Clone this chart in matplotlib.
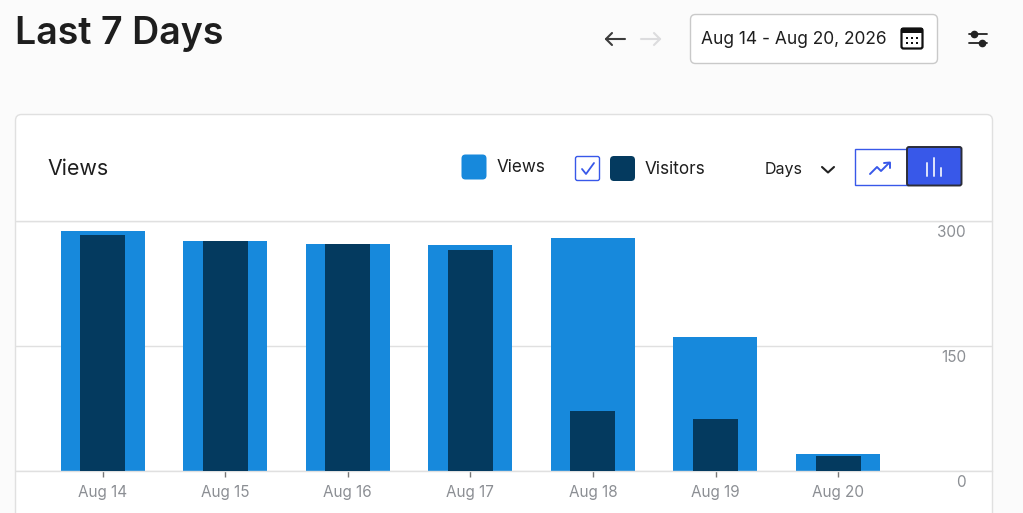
import matplotlib
matplotlib.use("Agg")
import matplotlib.pyplot as plt
from matplotlib.patches import FancyBboxPatch, Rectangle

plt.rcParams['font.family'] = ['Inter', 'DejaVu Sans']

days = ["Aug 14", "Aug 15", "Aug 16", "Aug 17", "Aug 18", "Aug 19", "Aug 20"]
views = [288, 276, 272, 271, 280, 161, 20]
visitors = [283, 276, 272, 265, 72, 62, 18]
y_ticks = [0, 150, 300]

W, H = 1023, 513
PAGE = "#fbfbfb"; BLUE = "#1789dc"; NAVY = "#043a5f"; ROYAL = "#3858e9"
INK = "#1e1e1e"; GREY = "#8c8f94"; LINE = "#e0e0e0"

fig = plt.figure(figsize=(W / 100, H / 100), dpi=100, facecolor=PAGE)
bg = fig.add_axes([0, 0, 1, 1], zorder=0)
bg.set_xlim(0, W); bg.set_ylim(H, 0); bg.axis("off")

def box(x0, y0, x1, y1, r=0, fc="white", ec="none", lw=1, ax=bg, z=1):
    ax.add_patch(FancyBboxPatch((x0 + r, y0 + r), x1 - x0 - 2 * r, y1 - y0 - 2 * r,
                                boxstyle=f"round,pad={r},rounding_size={r}" if r else "square,pad=0",
                                fc=fc, ec=ec, lw=lw, zorder=z))

def line(xs, ys, color=INK, lw=1.5, z=3):
    bg.plot(xs, ys, color=color, lw=lw, zorder=z, solid_capstyle="round", solid_joinstyle="round")

# card
box(15.5, 114.5, 992.5, 560, r=6, fc="white", ec=LINE, lw=1)
line([16, 992], [220.5, 220.5], LINE, 1.0, 2)

# header
bg.text(15, 34, "Last 7 Days", fontsize=27, fontweight="semibold", color=INK, va="center", ha="left")
line([606, 625], [39, 39], "#3c3c3c", 1.5)
line([612, 606, 612], [33, 39, 45], "#3c3c3c", 1.5)
line([641, 660], [39, 39], "#dcdcde", 1.5)
line([654, 660, 654], [33, 39, 45], "#dcdcde", 1.5)
box(690.5, 14.5, 937.5, 63.5, r=5, fc="white", ec="#c9c9c9", lw=1)
bg.text(701, 40, "Aug 14 - Aug 20, 2026", fontsize=12.5, color=INK, va="center", ha="left")
box(901.5, 28.5, 922.5, 48.5, r=2, fc="white", ec="#111111", lw=1.6)
bg.add_patch(Rectangle((901, 28), 22, 5, fc="#111111", zorder=3))
for cy in (38, 43):
    for cx in (907, 912, 917):
        bg.add_patch(Rectangle((cx - 1, cy - 1), 2.2, 2.2, fc="#111111", zorder=3))
line([969, 987], [34, 34], "#222222", 1.3)
line([969, 987], [43, 43], "#222222", 1.3)
bg.plot([974, 982], [34, 43], ls="none", marker="o", ms=4.5, color="#222222", zorder=4)

# card header
bg.text(47, 169, "Views", fontsize=15.4, color=INK, va="center", ha="left")
box(461.5, 154.5, 486.5, 179.5, r=4, fc=BLUE)
bg.text(497, 167.5, "Views", fontsize=12.3, color=INK, va="center", ha="left")
box(575.5, 156.5, 599.5, 180.5, r=2, fc="white", ec=ROYAL, lw=1)
line([582, 586, 594], [169, 174, 163], ROYAL, 1.3)
box(610, 156, 635, 181, r=4, fc=NAVY)
bg.text(645, 169.5, "Visitors", fontsize=12.4, color=INK, va="center", ha="left")
bg.text(765, 169.5, "Days", fontsize=11.5, color=INK, va="center", ha="left")
line([822, 828, 834], [167, 172.5, 167], "#222222", 1.5)
bg.add_patch(Rectangle((854.5, 148.5), 53, 36, fc="white", ec=ROYAL, lw=1, zorder=3))
line([870, 877, 881, 889], [174, 167, 171, 163], ROYAL, 1.4, 4)
line([884, 890, 890], [163, 162.5, 168], ROYAL, 1.4, 4)
box(907, 147, 961.5, 185.5, r=2, fc=ROYAL, ec="#2b2d3a", lw=1.4, z=5)
line([927, 927], [163, 176], "#dfe4fb", 1.4, 6)
line([934, 934], [158, 176], "#dfe4fb", 1.4, 6)
line([941, 941], [168, 176], "#dfe4fb", 1.4, 6)

# chart: y 0 at 471 px, 300 at 221 px; x from card left to right
ax = fig.add_axes([16 / W, 1 - 471 / H, 976 / W, 250 / H], zorder=2)
ax.patch.set_alpha(0)
ax.set_ylim(0, 300)
x = range(len(days))
first, step = 102.5, 122.6
ax.set_xlim((16 - first) / step, (992 - first) / step)
ax.bar(x, views, width=84 / step, color=BLUE, zorder=2)
ax.bar(x, visitors, width=45 / step, color=NAVY, zorder=3)
for s in ax.spines.values():
    s.set_visible(False)
ax.spines["bottom"].set_visible(True)
ax.spines["bottom"].set_color(LINE)
ax.spines["bottom"].set_linewidth(1)
ax.set_yticks(y_ticks)
ax.set_yticklabels([])
ax.tick_params(axis="y", length=0)
ax.grid(axis="y", color=LINE, lw=1, zorder=1)
ax.set_axisbelow(True)
ax.set_xticks(list(x), days)
ax.tick_params(axis="x", length=4, width=1, color="#777777", labelcolor=GREY, labelsize=11, pad=6.3)
for v in y_ticks:
    ax.annotate(str(v), xy=(1, v), xycoords=ax.get_yaxis_transform(), xytext=(-18.7, -8.2),
                textcoords="offset points", ha="right", va="center", fontsize=11, color=GREY, clip_on=False)

fig.savefig("out.png", dpi=100, facecolor=PAGE)
